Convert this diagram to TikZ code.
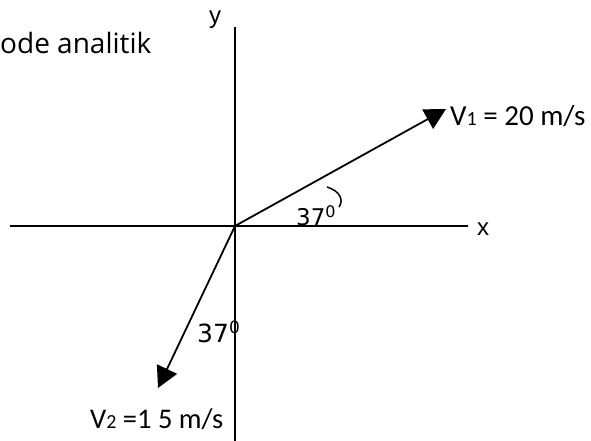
\documentclass[tikz,border=0pt]{standalone}
\usepackage{fontspec}
\setmainfont{Carlito}
\newfontfamily\titlefont{Open Sans}
\newfontfamily\axisfont{Liberation Sans}
\newfontfamily\anglefont{DejaVu Sans}
\usetikzlibrary{arrows.meta}
\begin{document}
\begin{tikzpicture}[x=1pt,y=-1pt,
  axis/.style={line width=1.8pt},
  vec/.style={line width=1.8pt,-{Triangle[length=21pt,width=22pt]}},
  lab/.style={inner sep=0pt,anchor=base west}]
\useasboundingbox (0,0) rectangle (591,441);
% coordinates
\coordinate (O) at (235,226);
\coordinate (xl) at (10,226);
\coordinate (xr) at (468,226);
\coordinate (yt) at (235,27);
\coordinate (yb) at (235,441);
\coordinate (t1) at (446,109);
\coordinate (t2) at (158,388);
% axes
\draw[axis] (xl) -- (xr);
\draw[axis] (yb) -- (yt);
% vectors
\draw[vec] (O) -- (t1);
\draw[vec] (O) -- (t2);
% angle arc
\draw[line width=1.5pt] (327,187) .. controls (340,191) and (344,200) .. (339,207);
% labels
\node[lab] (title) at (0,54) {\titlefont\fontsize{28}{30}\selectfont ode analitik};
\node[lab] (ylab) at (209,24) {\axisfont\fontsize{24}{26}\selectfont y};
\node[lab] (xlab) at (477,235) {\axisfont\fontsize{24}{26}\selectfont x};
\node[lab] (v1) at (450,125) {\fontsize{29}{32}\selectfont V{\fontsize{20}{22}\selectfont 1} = 20 m/s};
\node[lab] (v2) at (90,428) {\fontsize{28.5}{32}\selectfont V{\fontsize{20}{22}\selectfont 2} =1 5 m/s};
\node[lab] (a1) at (296,225) {\anglefont\fontsize{23}{25}\selectfont 37\raisebox{8pt}{\fontsize{16}{18}\selectfont 0}};
\node[lab] (a2) at (197,342) {\anglefont\fontsize{25}{27}\selectfont 37\raisebox{9pt}{\fontsize{17}{19}\selectfont 0}};
\end{tikzpicture}
\end{document}
